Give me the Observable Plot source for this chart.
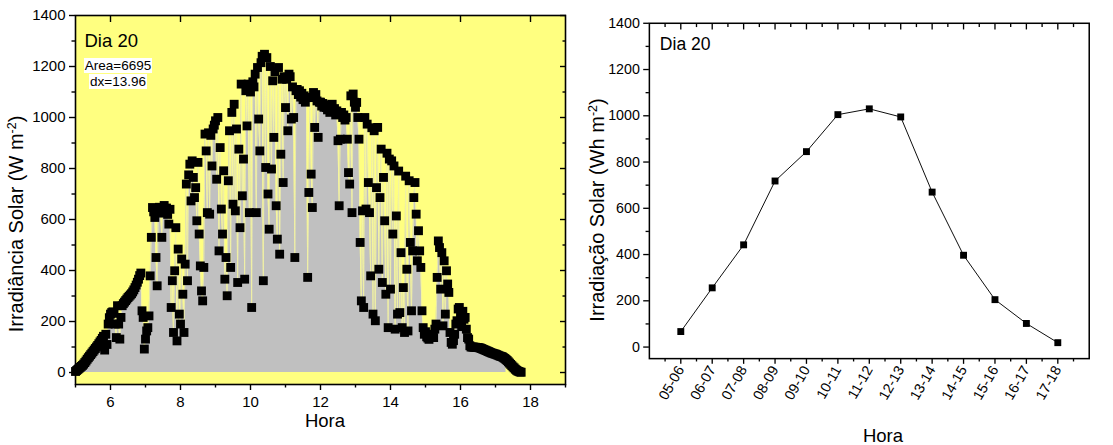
<!DOCTYPE html>
<html>
<head>
<meta charset="utf-8">
<script src="https://cdn.jsdelivr.net/npm/d3@7"></script>
<script src="https://cdn.jsdelivr.net/npm/@observablehq/plot@0.6"></script>
<style>
  html, body { margin:0; padding:0; background:#fff; overflow:hidden; }
  #wrap { position:relative; width:1113px; height:445px; font-family:"Liberation Sans", Arial, sans-serif; color:#000; }
  #left { position:absolute; left:0; top:0; width:590px; height:445px; }
  #right { position:absolute; left:590px; top:0; width:513px; height:445px; overflow:hidden; }
  .lab { position:absolute; white-space:nowrap; line-height:1; }
  .ylab { font-size:20px; transform:translate(-50%,-50%) rotate(-90deg); }
  .xlab { font-size:18.5px; transform:translateX(-50%); }
  .lab sup { font-size:0.62em; vertical-align:0.55em; line-height:0; }
  .note { position:absolute; font-size:13.5px; line-height:16px; text-align:center; white-space:nowrap; }
  .note span { background:#fff; padding:0 1px; }
</style>
</head>
<body>
<div id="wrap">
  <div id="left"></div>
  <div id="right"></div>
  <div class="lab ylab" style="left:16px;top:224px">Irradiância Solar (W m<sup>-2</sup>)</div>
  <div class="lab ylab" style="left:597px;top:210px">Irradiação Solar (Wh m<sup>-2</sup>)</div>
  <div class="lab xlab" style="left:325px;top:412px">Hora</div>
  <div class="lab xlab" style="left:883px;top:427px">Hora</div>
  <div class="note" style="left:83px;top:58px;width:70px"><span>Area=6695</span><br><span>dx=13.96</span></div>
</div>
<script>
// ---- Left chart: 2-minute irradiance readings (W m-2), one array per hour starting at the hour ----
const h05 = [4,8,12,16,20,24,28,33,39,45,52,58,64,70,76,82,88,94,100,106,113,120,126,134,142,88,150,110,190,215];
const h06 = [229,235,238,232,190,137,262,190,131,216,262,270,276,282,288,294,299,304,309,316,324,333,343,354,366,380,390,242,216,92];
const h07 = [131,163,176,222,379,530,647,630,608,451,340,640,648,625,530,640,655,638,645,620,582,640,255,360,157,399,568,124,484,229];
const h08 = [190,445,307,157,425,739,360,775,817,673,830,765,686,725,595,824,543,418,320,281,412,935,869,627,940,621,930,810,955,970];
const h09 = [987,758,1000,477,882,641,543,791,366,451,301,752,948,412,1020,660,1052,634,955,353,876,568,1131,693,837,366,1105,967,1131,627];
const h10 = [1100,255,1140,1120,1170,627,1196,994,869,1215,1240,360,1248,804,1235,700,562,1200,798,1144,922,1180,654,523,1196,464,856,1150,745,1160];
const h11 = [1039,1150,948,1170,1160,994,1120,1000,451,1105,1110,1090,1105,1080,1095,1070,1085,1060,1078,373,706,1078,778,647,1098,961,1090,1065,922,1060];
const h12 = [1060,1045,1055,1040,1050,1039,1030,1045,1020,1040,1052,1025,1035,1010,1026,909,654,915,1020,1000,1010,990,1000,915,784,739,1085,627,1092,1060];
const h13 = [1040,1059,1000,915,510,281,634,255,1000,641,974,745,627,379,960,229,948,203,725,961,405,686,876,353,765,595,307,860,176,837];
const h14 = [327,830,543,810,170,614,229,790,235,470,176,333,157,770,405,163,752,510,242,477,686,745,621,438,556,477,412,242,176,150];
const h15 = [160,140,135,130,138,137,150,137,170,190,373,516,490,327,470,183,438,229,399,347,314,157,118,111,125,150,190,203,249,255];
const h16 = [225,180,240,209,216,170,137,131,105,100,100,100,99,99,98,98,97,96,94,92,90,88,86,84,82,80,78,76,75,73];
const h17 = [72,70,68,66,64,63,61,58,55,51,47,42,37,32,27,22,18,13,9,6,4,2,1];
const firstHour = 5;
const samplesPerHour = 30;
const areaEnd = 17.3;

const leftYMajor = [0,200,400,600,800,1000,1200,1400];
const leftYMinor = [100,300,500,700,900,1100,1300];
const leftXMajor = [6,8,10,12,14,16,18];
const leftXMinor = [5,7,9,11,13,15,17,19];

// ---- Right chart: hourly irradiation (Wh m-2) ----
const periods = ["05-06","06-07","07-08","08-09","09-10","10-11","11-12","12-13","13-14","14-15","15-16","16-17","17-18"];
const irradiacao = [67,256,442,718,845,1005,1030,995,670,397,205,102,19];
const rightYMajor = [0,200,400,600,800,1000,1200,1400];
const rightYMinor = [100,300,500,700,900,1100,1300];

const hours = [h05,h06,h07,h08,h09,h10,h11,h12,h13,h14,h15,h16,h17];
const irr = hours.flatMap((arr, k) => arr.map((v, i) => ({t: firstHour + k + i / samplesPerHour, v})));

const font = '"Liberation Sans", Arial, sans-serif';
const blank = () => "";
const plain = d => String(d);

const left = Plot.plot({
  width: 590, height: 445,
  marginLeft: 75, marginRight: 25, marginTop: 15, marginBottom: 61,
  x: {domain: [5, 19]},
  y: {domain: [-47, 1400]},
  style: {fontFamily: font, fontSize: "15px", color: "black", background: "white"},
  marks: [
    Plot.frame({fill: "#FFFF80"}),
    Plot.areaY(irr.filter(d => d.t <= areaEnd), {x: "t", y: "v", fill: "#C0C0C0"}),
    Plot.line(irr, {x: "t", y: "v", stroke: "#F2F2A6", strokeWidth: 0.8}),
    Plot.dot(irr, {x: "t", y: "v", symbol: "square", r: 5, fill: "black"}),
    Plot.frame({stroke: "black", strokeWidth: 1.6}),
    Plot.axisY(leftYMajor, {anchor: "left", tickSize: 6, tickPadding: 4, strokeWidth: 1.4, tickFormat: plain, label: null}),
    Plot.axisY(leftYMinor, {anchor: "left", tickSize: 3.5, strokeWidth: 1.4, tickFormat: blank, label: null}),
    Plot.axisY(leftYMajor, {anchor: "right", tickSize: 6, dx: -6, strokeWidth: 1.4, tickFormat: blank, label: null}),
    Plot.axisY(leftYMinor, {anchor: "right", tickSize: 3.5, dx: -3.5, strokeWidth: 1.4, tickFormat: blank, label: null}),
    Plot.axisX(leftXMajor, {anchor: "bottom", tickSize: 6, tickPadding: 6, strokeWidth: 1.4, tickFormat: plain, label: null}),
    Plot.axisX(leftXMinor, {anchor: "bottom", tickSize: 3.5, strokeWidth: 1.4, tickFormat: blank, label: null}),
    Plot.axisX(leftXMajor, {anchor: "top", tickSize: 6, dy: 6, strokeWidth: 1.4, tickFormat: blank, label: null}),
    Plot.text(["Dia 20"], {frameAnchor: "top-left", dx: 9, dy: 31, lineAnchor: "bottom", textAnchor: "start", fontSize: 18.5, fill: "black"})
  ]
});
document.getElementById("left").appendChild(left);

const rows = periods.map((p, i) => ({pos: i + 1, v: irradiacao[i]}));
const catPos = periods.map((_, i) => i + 1);
const halfPos = d3.range(0.5, periods.length + 1, 1);

const right = Plot.plot({
  width: 540, height: 445,
  marginLeft: 62, marginRight: 15, marginTop: 24, marginBottom: 68,
  x: {domain: [0, periods.length + 1]},
  y: {domain: [-50, 1400]},
  style: {fontFamily: font, fontSize: "15px", color: "black", background: "white"},
  marks: [
    Plot.frame({stroke: "black", strokeWidth: 1.6}),
    Plot.line(rows, {x: "pos", y: "v", stroke: "black", strokeWidth: 1}),
    Plot.dot(rows, {x: "pos", y: "v", symbol: "square", r: 4.1, fill: "black"}),
    Plot.axisY(rightYMajor, {anchor: "left", tickSize: 6, tickPadding: 4, strokeWidth: 1.4, tickFormat: plain, label: null}),
    Plot.axisY(rightYMinor, {anchor: "left", tickSize: 3.5, strokeWidth: 1.4, tickFormat: blank, label: null}),
    Plot.axisX(catPos, {anchor: "bottom", tickSize: 6, tickPadding: 3, tickRotate: -60, strokeWidth: 1.4, tickFormat: d => periods[Math.round(d) - 1], label: null}),
    Plot.axisX(halfPos, {anchor: "bottom", tickSize: 3.5, strokeWidth: 1.4, tickFormat: blank, label: null}),
    Plot.axisX(catPos, {anchor: "top", tickSize: 6, dy: 6, strokeWidth: 1.4, tickFormat: blank, label: null}),
    Plot.axisX(halfPos, {anchor: "top", tickSize: 3.5, dy: 3.5, strokeWidth: 1.4, tickFormat: blank, label: null}),
    Plot.text(["Dia 20"], {frameAnchor: "top-left", dx: 11, dy: 28, lineAnchor: "bottom", textAnchor: "start", fontSize: 18.5, fill: "black"})
  ]
});
document.getElementById("right").appendChild(right);
</script>
</body>
</html>
